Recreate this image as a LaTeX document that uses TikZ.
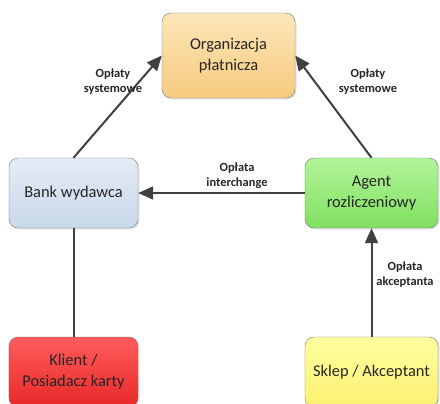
\documentclass[tikz,border=0pt]{standalone}
\usepackage{fontspec}
\setmainfont{Carlito}
\usetikzlibrary{arrows.meta,shadows}

\definecolor{orgtop}{HTML}{FCE6B8}
\definecolor{orgbot}{HTML}{F7CB80}
\definecolor{banktop}{HTML}{E4ECF6}
\definecolor{bankbot}{HTML}{C8D8EA}
\definecolor{agenttop}{HTML}{B2F59A}
\definecolor{agentbot}{HTML}{80E060}
\definecolor{klienttop}{HTML}{FF5C5C}
\definecolor{klientbot}{HTML}{E82828}
\definecolor{skleptop}{HTML}{FFFFA0}
\definecolor{sklepbot}{HTML}{FBF070}

\tikzset{
  box/.style={draw=black!55, rounded corners=9bp, minimum width=129bp, minimum height=70bp,
    align=center, font=\fontsize{16.5}{21}\selectfont, text=black!85,
    drop shadow={opacity=0.2, shadow xshift=1.5bp, shadow yshift=-1.5bp}},
  link/.style={draw=black!75, line width=2bp},
  tip/.style={-{Triangle[length=15bp,width=13bp]}},
  lbl/.style={font=\fontsize{12.5}{15}\selectfont\bfseries, align=center, text=black!85}
}

\begin{document}
\begin{tikzpicture}[x=1bp, y=-1bp]
    \useasboundingbox (0,0) rectangle (440,403);
    \clip (0,0) rectangle (440,403);
    % boxes
    \node[box, minimum width=133bp, minimum height=85bp, top color=orgtop, bottom color=orgbot] (org) at (228.5,55.5) {Organizacja\\płatnicza};
    \node[box, top color=banktop, bottom color=bankbot] (bank) at (73.5,193) {Bank wydawca};
    \node[box, minimum width=133bp, top color=agenttop, bottom color=agentbot] (agent) at (371.5,193) {Agent\\rozliczeniowy};
    \node[box, top color=klienttop, bottom color=klientbot] (klient) at (73.5,372) {Klient /\\Posiadacz karty};
    \node[box, minimum width=133bp, top color=skleptop, bottom color=sklepbot] (sklep) at (371.5,372) {Sklep / Akceptant};
    % connectors
    \draw[link, tip] (bank.north) -- (org.west);
    \draw[link, tip] (agent.north) -- (org.east);
    \draw[link, tip] (agent.west) -- (bank.east);
    \draw[link, tip] (sklep.north) -- (agent.south);
    \draw[link] (klient.north) -- (bank.south);
    % labels
    \node[lbl] (l1) at (113,82) {Opłaty\\systemowe};
    \node[lbl] (l2) at (368,82) {Opłaty\\systemowe};
    \node[lbl] (l3) at (237,176) {Opłata\\interchange};
    \node[lbl] (l4) at (405,275) {Opłata\\akceptanta};
\end{tikzpicture}
\end{document}
